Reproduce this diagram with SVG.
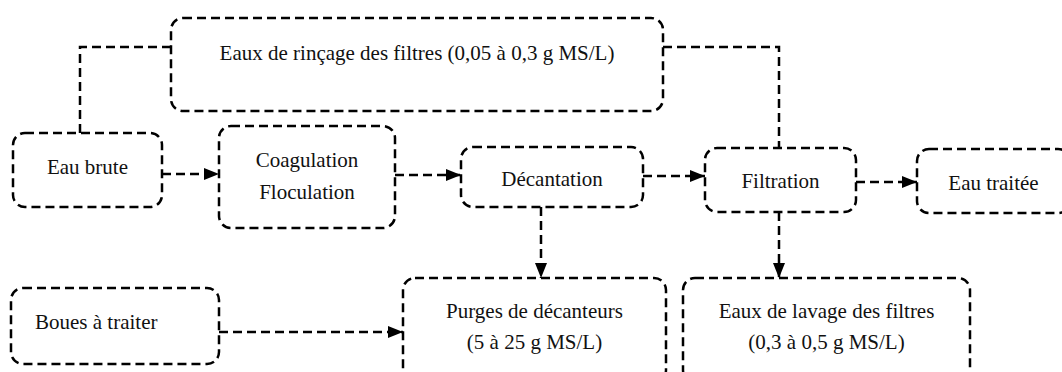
<svg xmlns="http://www.w3.org/2000/svg" width="1062" height="372" viewBox="0 0 1062 372">
  <style>
    .box { fill: none; stroke: #000; stroke-width: 2.5; stroke-dasharray: 9 5; }
    .link { fill: none; stroke: #000; stroke-width: 2.5; stroke-dasharray: 9 5; }
    .lbl { font-family: "Liberation Serif", "Times New Roman", serif; font-size: 21px; fill: #111; text-anchor: middle; }
    .lbl.left { text-anchor: start; }
  </style>
  <defs>
    <marker id="arrow" markerUnits="userSpaceOnUse" markerWidth="16" markerHeight="14" refX="15" refY="6" orient="auto">
      <path d="M0,0 L15,6 L0,12 Z" fill="#000"/>
    </marker>
  </defs>
  <rect width="1062" height="372" fill="#fff"/>

  <!-- process steps -->
  <g id="node-rincage">
    <rect class="box" x="171" y="18" width="492" height="93" rx="12"/>
    <text class="lbl" x="417" y="60">Eaux de rinçage des filtres (0,05 à 0,3 g MS/L)</text>
  </g>
  <g id="node-eau-brute">
    <rect class="box" x="13" y="133" width="149" height="74" rx="12"/>
    <text class="lbl" x="87.5" y="174">Eau brute</text>
  </g>
  <g id="node-coagulation">
    <rect class="box" x="219" y="126" width="176" height="102" rx="12"/>
    <text class="lbl" x="307" y="167">Coagulation</text>
    <text class="lbl" x="307" y="199">Floculation</text>
  </g>
  <g id="node-decantation">
    <rect class="box" x="461" y="147" width="182" height="60" rx="12"/>
    <text class="lbl" x="552" y="186">Décantation</text>
  </g>
  <g id="node-filtration">
    <rect class="box" x="705" y="148" width="151" height="64" rx="12"/>
    <text class="lbl" x="780.5" y="188">Filtration</text>
  </g>
  <g id="node-eau-traitee">
    <rect class="box" x="917" y="149" width="153" height="64" rx="12"/>
    <text class="lbl" x="993.5" y="190">Eau traitée</text>
  </g>
  <g id="node-boues">
    <rect class="box" x="11" y="288" width="208" height="76" rx="12"/>
    <text class="lbl left" x="35" y="329">Boues à traiter</text>
  </g>
  <g id="node-purges">
    <rect class="box" x="403" y="278" width="263" height="104" rx="12"/>
    <text class="lbl" x="534.5" y="318">Purges de décanteurs</text>
    <text class="lbl" x="534.5" y="349">(5 à 25 g MS/L)</text>
  </g>
  <g id="node-lavage">
    <rect class="box" x="683" y="278" width="287" height="104" rx="12"/>
    <text class="lbl" x="826.5" y="318">Eaux de lavage des filtres</text>
    <text class="lbl" x="826.5" y="349">(0,3 à 0,5 g MS/L)</text>
  </g>

  <!-- flows -->
  <g id="connectors">
    <path class="link" d="M80,133 V47 H171"/>
    <path class="link" d="M663,47 H779 V148"/>
    <path class="link" d="M162,174 H219" marker-end="url(#arrow)"/>
    <path class="link" d="M395,175 H461" marker-end="url(#arrow)"/>
    <path class="link" d="M643,176 H705" marker-end="url(#arrow)"/>
    <path class="link" d="M856,182 H917" marker-end="url(#arrow)"/>
    <path class="link" d="M219,332 H403" marker-end="url(#arrow)"/>
    <path class="link" d="M541,207 V278" marker-end="url(#arrow)"/>
    <path class="link" d="M779,212 V278" marker-end="url(#arrow)"/>
  </g>
</svg>
